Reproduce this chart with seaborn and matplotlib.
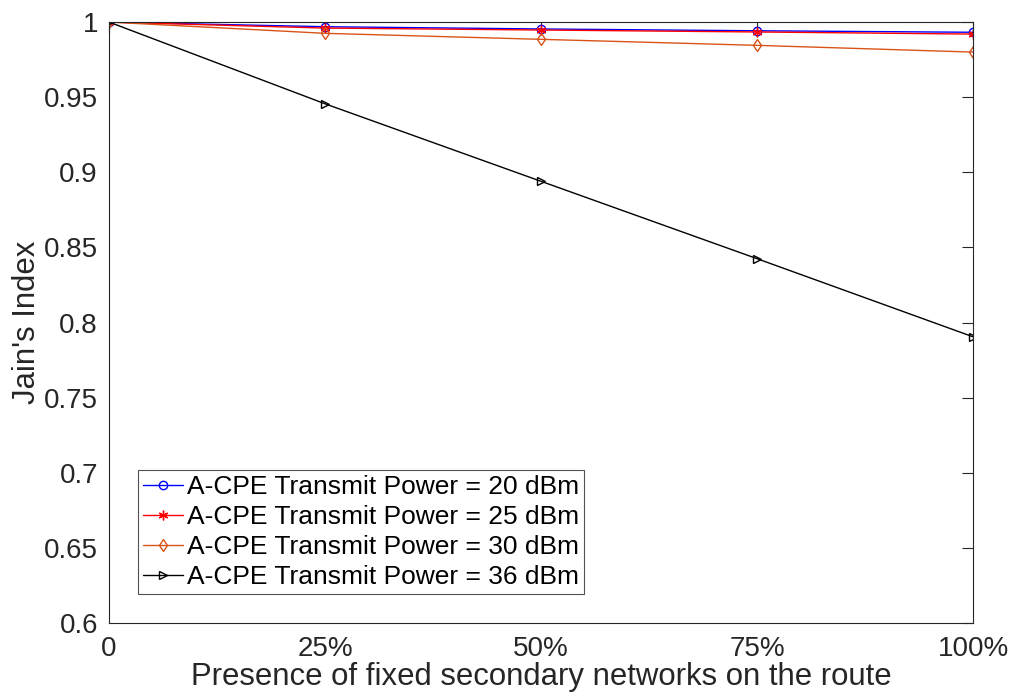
import matplotlib
matplotlib.use("Agg")
import matplotlib.pyplot as plt
import seaborn as sns
import pandas as pd

sns.set_style("white")
plt.rcParams['font.family'] = ['Liberation Sans', 'DejaVu Sans']

x_pos = [0, 25, 50, 75, 100]
x_labels = ["0", "25%", "50%", "75%", "100%"]
p20 = [1.0, 0.9969, 0.9954, 0.9942, 0.9932]
p25 = [1.0, 0.9960, 0.9947, 0.9934, 0.9920]
p30 = [1.0, 0.9925, 0.9885, 0.9845, 0.9800]
p36 = [1.0, 0.9456, 0.8940, 0.8425, 0.7905]
names = ["A-CPE Transmit Power = 20 dBm", "A-CPE Transmit Power = 25 dBm",
         "A-CPE Transmit Power = 30 dBm", "A-CPE Transmit Power = 36 dBm"]
series = [p20, p25, p30, p36]
colors = ["#0000FF", "#FF0000", "#D95319", "#000000"]
markers = ["o", (6, 2, 0), "d", ">"]
msizes = [6, 7, 6, 6]

fig = plt.figure(figsize=(10.13, 6.98), dpi=100)
ax = fig.add_axes([0.1076, 0.1074, 0.853, 0.861])

for name, vals, c, m, ms in zip(names, series, colors, markers, msizes):
    df = pd.DataFrame({"x": x_pos, "y": vals})
    sns.lineplot(data=df, x="x", y="y", ax=ax, color=c, marker=m, markersize=ms,
                 markerfacecolor="none", markeredgecolor=c, markeredgewidth=1.0,
                 linewidth=1.0, label=name)

ax.set_xlim(0, 100)
ax.set_ylim(0.6, 1.0)
ax.set_xticks(x_pos)
ax.set_xticklabels(x_labels)
yt = [0.6, 0.65, 0.7, 0.75, 0.8, 0.85, 0.9, 0.95, 1.0]
ax.set_yticks(yt)
ax.set_yticklabels(["0.6", "0.65", "0.7", "0.75", "0.8", "0.85", "0.9", "0.95", "1"])
ax.tick_params(direction="in", top=True, right=True, length=8, width=0.8,
               labelsize=20, color="#262626", labelcolor="#262626")
ax.tick_params(axis="x", pad=9)
ax.tick_params(axis="y", pad=8)
for s in ax.spines.values():
    s.set_color("#262626")
    s.set_linewidth(0.8)
ax.set_xlabel("Presence of fixed secondary networks on the route", fontsize=22.4,
              labelpad=0, color="#262626")
ax.set_ylabel("Jain's Index", fontsize=22.4, labelpad=1, color="#262626")

leg = ax.legend(loc="lower left", bbox_to_anchor=(0.0336, 0.048), borderaxespad=0,
                fontsize=19, frameon=True, fancybox=False, edgecolor="#262626",
                handlelength=1.5, handletextpad=0.15, borderpad=0.2, labelspacing=0.22)
leg.get_frame().set_linewidth(0.8)
for t in leg.get_texts():
    t.set_color("#000000")

fig.savefig("out.png", dpi=100)
